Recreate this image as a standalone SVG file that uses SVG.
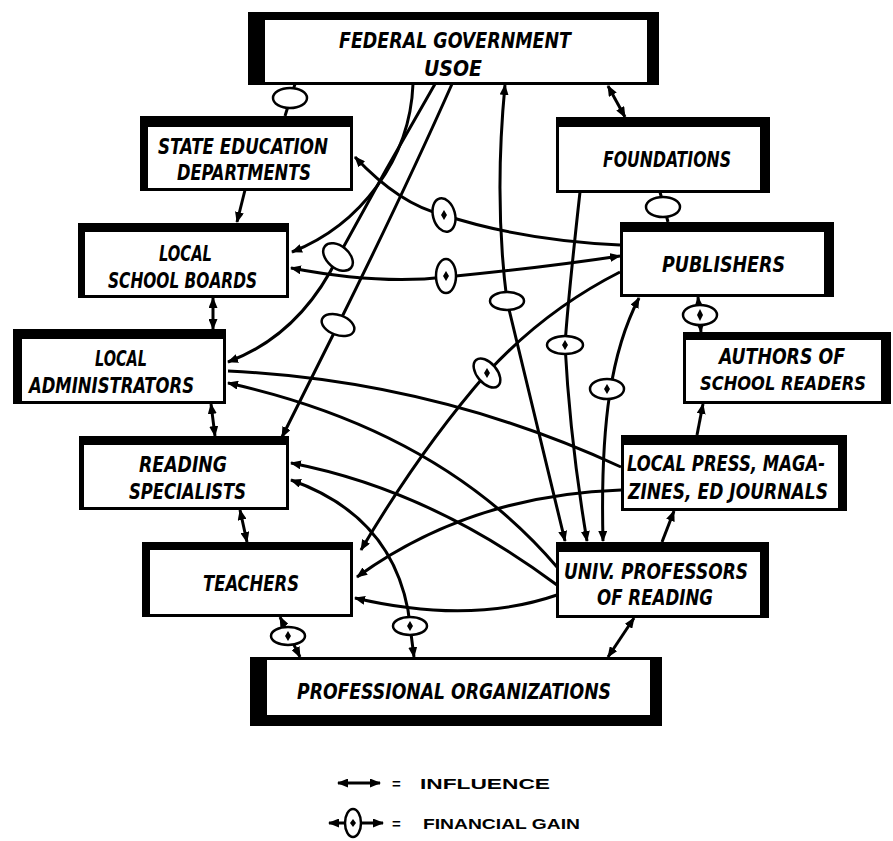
<svg xmlns="http://www.w3.org/2000/svg" width="893" height="841" viewBox="0 0 893 841">
<style>
.o{fill:#000}
.i{fill:#fff}
.t{font-family:"Liberation Sans Narrow","DejaVu Sans Condensed","Liberation Sans",sans-serif;font-weight:bold;font-style:italic;font-size:22px;fill:#000}
.c{fill:none;stroke:#000;stroke-width:3}
.e{fill:#fff;stroke:#000;stroke-width:2.5}
.d{fill:#000}
.lg{font-family:"Liberation Sans","DejaVu Sans",sans-serif;font-weight:bold;font-size:15px;fill:#000}
</style>
<defs>
<marker id="a" viewBox="0 0 11 9" refX="10" refY="4.5" markerWidth="11" markerHeight="9" markerUnits="userSpaceOnUse" orient="auto-start-reverse">
<path d="M0,0 L11,4.5 L0,9 z" fill="#000"/>
</marker>
</defs>
<rect width="893" height="841" fill="#fff"/>

<g id="connectors">
<!-- Federal - State Ed -->
<path class="c" d="M295,84 L285,116"/>
<ellipse class="e" cx="290" cy="98" rx="17" ry="10"/>
<!-- Foundations <-> Federal -->
<path class="c" d="M608,86 L625,117" marker-start="url(#a)" marker-end="url(#a)"/>
<!-- Foundations - Publishers -->
<path class="c" d="M660,192 L668,222"/>
<ellipse class="e" cx="663" cy="207" rx="17" ry="10"/>
<!-- Publishers <-> Authors -->
<path class="c" d="M698,297 L701,332" marker-start="url(#a)" marker-end="url(#a)"/>
<ellipse class="e" cx="700" cy="315" rx="17" ry="10"/>
<path class="d" d="M700,309 L703,315 L700,321 L697,315 z"/>
<!-- Authors - Local Press -->
<path class="c" d="M697,435 L703,404" marker-end="url(#a)"/>
<!-- Local Press - Univ -->
<path class="c" d="M662,542 L674,511" marker-end="url(#a)"/>
<!-- Univ <-> Prof Org -->
<path class="c" d="M634,618 L608,657" marker-start="url(#a)" marker-end="url(#a)"/>
<!-- Teachers <-> Prof Org -->
<path class="c" d="M280,617 L300,657" marker-start="url(#a)" marker-end="url(#a)"/>
<ellipse class="e" cx="288" cy="636" rx="17" ry="9"/>
<path class="d" d="M288,631 L291,636 L288,641 L285,636 z"/>
<!-- Reading <-> Prof Org -->
<path class="c" d="M291,480 Q390,515 408,610 L414,657" marker-start="url(#a)" marker-end="url(#a)"/>
<ellipse class="e" cx="410" cy="626" rx="17" ry="9"/>
<path class="d" d="M410,621 L413,626 L410,631 L407,626 z"/>
<!-- vertical left chain -->
<path class="c" d="M245,190 L237,222" marker-end="url(#a)"/>
<path class="c" d="M213,298 L213,329" marker-start="url(#a)" marker-end="url(#a)"/>
<path class="c" d="M211,404 L215,436" marker-start="url(#a)" marker-end="url(#a)"/>
<path class="c" d="M240,510 L247,542" marker-start="url(#a)" marker-end="url(#a)"/>
<!-- Federal -> School Boards -->
<path class="c" d="M413,84 C410,160 360,225 292,252" marker-end="url(#a)"/>
<!-- Federal -> Local Admin -->
<path class="c" d="M435,84 Q385,170 338,257 Q300,335 228,362" marker-end="url(#a)"/>
<ellipse class="e" cx="338" cy="257" rx="17" ry="11" transform="rotate(40 338 257)"/>
<!-- Federal -> Reading -->
<path class="c" d="M452,84 Q405,190 338,325 L282,437" marker-end="url(#a)"/>
<ellipse class="e" cx="338" cy="325" rx="17" ry="10" transform="rotate(20 338 325)"/>
<!-- Federal <-> Univ -->
<path class="c" d="M505,85 Q494,200 507,301 L565,541" marker-start="url(#a)" marker-end="url(#a)"/>
<ellipse class="e" cx="507" cy="301" rx="17" ry="9"/>
<!-- Foundations -> Univ -->
<path class="c" d="M580,192 Q568,300 565,345 Q570,440 587,541" marker-end="url(#a)"/>
<ellipse class="e" cx="565" cy="345" rx="18" ry="9"/>
<path class="d" d="M565,340 L568,345 L565,350 L562,345 z"/>
<!-- Publishers <-> Univ -->
<path class="c" d="M639,298 C612,350 600,420 603,541" marker-start="url(#a)" marker-end="url(#a)"/>
<ellipse class="e" cx="607" cy="389" rx="17" ry="10"/>
<path class="d" d="M607,384 L610,389 L607,394 L604,389 z"/>
<!-- State Ed <-> Publishers -->
<path class="c" d="M355,157 Q400,205 444,215 Q520,240 620,245" marker-start="url(#a)"/>
<ellipse class="e" cx="444" cy="215" rx="11" ry="17" transform="rotate(-15 444 215)"/>
<path class="d" d="M444,210 L447,215 L444,220 L441,215 z"/>
<!-- School Boards <-> Publishers -->
<path class="c" d="M291,268 Q380,285 446,277 Q540,268 620,256" marker-start="url(#a)" marker-end="url(#a)"/>
<ellipse class="e" cx="446" cy="276" rx="10" ry="17"/>
<path class="d" d="M446,271 L449,276 L446,281 L443,276 z"/>
<!-- Publishers -> Teachers -->
<path class="c" d="M620,272 Q545,310 487,373 Q420,450 361,550" marker-end="url(#a)"/>
<ellipse class="e" cx="487" cy="373" rx="17" ry="10" transform="rotate(50 487 373)"/>
<path class="d" d="M487,368 L490,373 L487,378 L484,373 z"/>
<!-- Local Press - Local Admin -->
<path class="c" d="M621,467 Q435,381 228,371"/>
<!-- Univ -> Local Admin -->
<path class="c" d="M557,567 Q440,430 228,383" marker-end="url(#a)"/>
<!-- Univ -> Reading -->
<path class="c" d="M557,585 Q430,490 291,463" marker-end="url(#a)"/>
<!-- Local Press -> Teachers -->
<path class="c" d="M621,490 Q470,495 357,577" marker-end="url(#a)"/>
<!-- Univ -> Teachers -->
<path class="c" d="M557,595 Q470,625 355,598" marker-end="url(#a)"/>
</g>

<g id="federal">
<rect class="o" x="248" y="12" width="411" height="73"/>
<rect class="i" x="265" y="20" width="382" height="62"/>
<text class="t" x="339" y="48" textLength="232" lengthAdjust="spacingAndGlyphs" style="font-size:21px">FEDERAL GOVERNMENT</text>
<text class="t" x="424" y="76" textLength="58" lengthAdjust="spacingAndGlyphs" style="font-size:21px">USOE</text>
</g>
<g id="state">
<rect class="o" x="140" y="116" width="213" height="75"/>
<rect class="i" x="148" y="127" width="202" height="61"/>
<text class="t" x="158" y="154" textLength="170" lengthAdjust="spacingAndGlyphs">STATE EDUCATION</text>
<text class="t" x="177" y="180" textLength="134" lengthAdjust="spacingAndGlyphs">DEPARTMENTS</text>
</g>
<g id="foundations">
<rect class="o" x="556" y="117" width="214" height="76"/>
<rect class="i" x="559" y="127" width="201" height="63"/>
<text class="t" x="603" y="167" textLength="128" lengthAdjust="spacingAndGlyphs">FOUNDATIONS</text>
</g>
<g id="publishers">
<rect class="o" x="620" y="222" width="214" height="75"/>
<rect class="i" x="623" y="232" width="201" height="62"/>
<text class="t" x="662" y="272" textLength="123" lengthAdjust="spacingAndGlyphs">PUBLISHERS</text>
</g>
<g id="school-boards">
<rect class="o" x="78" y="223" width="211" height="75"/>
<rect class="i" x="85" y="232" width="201" height="63"/>
<text class="t" x="159" y="261" textLength="53" lengthAdjust="spacingAndGlyphs">LOCAL</text>
<text class="t" x="108" y="288" textLength="149" lengthAdjust="spacingAndGlyphs">SCHOOL BOARDS</text>
</g>
<g id="local-admin">
<rect class="o" x="13" y="329" width="213" height="75"/>
<rect class="i" x="22" y="339" width="201" height="62"/>
<text class="t" x="95" y="366" textLength="52" lengthAdjust="spacingAndGlyphs">LOCAL</text>
<text class="t" x="29" y="393" textLength="165" lengthAdjust="spacingAndGlyphs">ADMINISTRATORS</text>
</g>
<g id="authors">
<rect class="o" x="683" y="332" width="208" height="72"/>
<rect class="i" x="686" y="340" width="195" height="61"/>
<text class="t" x="719" y="364" textLength="126" lengthAdjust="spacingAndGlyphs">AUTHORS OF</text>
<text class="t" x="700" y="390" textLength="166" lengthAdjust="spacingAndGlyphs" style="font-size:20px">SCHOOL READERS</text>
</g>
<g id="local-press">
<rect class="o" x="621" y="435" width="226" height="76"/>
<rect class="i" x="624" y="445" width="214" height="63"/>
<text class="t" x="627" y="471" textLength="198" lengthAdjust="spacingAndGlyphs">LOCAL PRESS, MAGA-</text>
<text class="t" x="628" y="499" textLength="200" lengthAdjust="spacingAndGlyphs">ZINES, ED JOURNALS</text>
</g>
<g id="reading-specialists">
<rect class="o" x="79" y="436" width="210" height="74"/>
<rect class="i" x="84" y="445" width="202" height="62"/>
<text class="t" x="139" y="472" textLength="88" lengthAdjust="spacingAndGlyphs">READING</text>
<text class="t" x="129" y="499" textLength="117" lengthAdjust="spacingAndGlyphs">SPECIALISTS</text>
</g>
<g id="teachers">
<rect class="o" x="142" y="542" width="211" height="75"/>
<rect class="i" x="150" y="550" width="200" height="64"/>
<text class="t" x="203" y="591" textLength="96" lengthAdjust="spacingAndGlyphs">TEACHERS</text>
</g>
<g id="univ-professors">
<rect class="o" x="556" y="542" width="213" height="76"/>
<rect class="i" x="559" y="552" width="201" height="63"/>
<text class="t" x="564" y="579" textLength="184" lengthAdjust="spacingAndGlyphs">UNIV. PROFESSORS</text>
<text class="t" x="597" y="605" textLength="116" lengthAdjust="spacingAndGlyphs">OF READING</text>
</g>
<g id="professional-organizations">
<rect class="o" x="250" y="657" width="412" height="69"/>
<rect class="i" x="267" y="660" width="383" height="55"/>
<text class="t" x="297" y="699" textLength="314" lengthAdjust="spacingAndGlyphs">PROFESSIONAL ORGANIZATIONS</text>
</g>

<g id="legend">
<path class="c" d="M338,783 L380,783" marker-start="url(#a)" marker-end="url(#a)"/>
<text class="lg" x="392" y="789">=</text>
<text class="lg" x="420" y="789" textLength="130" lengthAdjust="spacingAndGlyphs">INFLUENCE</text>
<path class="c" d="M329,823 L383,823" marker-start="url(#a)" marker-end="url(#a)"/>
<ellipse class="e" cx="353" cy="823" rx="8" ry="14"/>
<path class="d" d="M353,819 L356,823 L353,827 L350,823 z"/>
<text class="lg" x="392" y="829">=</text>
<text class="lg" x="423" y="829" textLength="157" lengthAdjust="spacingAndGlyphs">FINANCIAL GAIN</text>
</g>
</svg>
